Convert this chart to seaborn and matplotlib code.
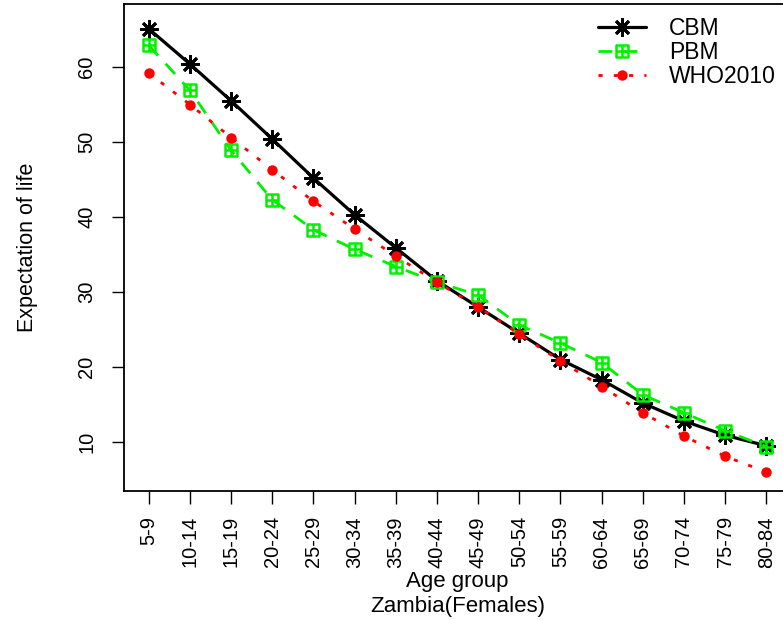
import matplotlib
matplotlib.use("Agg")
import matplotlib.pyplot as plt
from matplotlib.path import Path
import seaborn as sns
import numpy as np

age_groups = ["5-9", "10-14", "15-19", "20-24", "25-29", "30-34", "35-39", "40-44",
              "45-49", "50-54", "55-59", "60-64", "65-69", "70-74", "75-79", "80-84"]
cbm = [65.1, 60.4, 55.5, 50.4, 45.2, 40.3, 35.9, 31.5, 28.0, 24.5, 21.0, 18.3, 15.2, 12.8, 10.9, 9.5]
pbm = [62.9, 56.9, 48.9, 42.3, 38.3, 35.7, 33.4, 31.3, 29.6, 25.6, 23.2, 20.6, 16.3, 13.9, 11.5, 9.4]
who2010 = [59.2, 55.0, 50.6, 46.3, 42.1, 38.4, 34.8, 31.3, 28.0, 24.4, 20.8, 17.4, 13.9, 10.8, 8.1, 6.0]
y_ticks = [10, 20, 30, 40, 50, 60]

sns.set_style("white")
plt.rcParams['font.family'] = ['Liberation Sans', 'DejaVu Sans']
plt.rcParams['text.color'] = 'black'
plt.rcParams['axes.labelcolor'] = 'black'
plt.rcParams['xtick.color'] = 'black'
plt.rcParams['ytick.color'] = 'black'

# square with a cross inside (like R pch 12)
boxplus = Path(
    [(-1, -1), (1, -1), (1, 1), (-1, 1), (-1, -1), (0, -1), (0, 1), (-1, 0), (1, 0)],
    [Path.MOVETO, Path.LINETO, Path.LINETO, Path.LINETO, Path.CLOSEPOLY,
     Path.MOVETO, Path.LINETO, Path.MOVETO, Path.LINETO])

pos = np.arange(1, len(age_groups) + 1)
green = '#00F000'

fig = plt.figure(figsize=(7.83, 6.2), dpi=100)
ax = fig.add_axes([124/783, 1 - 491/620, (791 - 124)/783, (491 - 4)/620])

sns.lineplot(x=pos, y=cbm, ax=ax, color='black', lw=2.3, marker=(8, 2, 0),
             markersize=13, mew=2, mec='black', label='CBM')
sns.lineplot(x=pos, y=pbm, ax=ax, color=green, lw=2, linestyle=(0, (5, 4)),
             marker=boxplus, markersize=8.5, mew=1.8, mec=green, mfc='none', label='PBM')
sns.lineplot(x=pos, y=who2010, ax=ax, color='red', lw=2, linestyle=(0, (1.5, 4)),
             marker='o', markersize=7.5, mew=0, mfc='red', label='WHO2010')

ax.set_xlim(0.4, 16.6)
ax.set_ylim(3.47, 68.4)
ax.set_xticks(pos)
ax.set_xticklabels(age_groups, rotation=90, fontsize=14.5)
ax.set_yticks(y_ticks)
ax.set_yticklabels([str(v) for v in y_ticks], rotation=90, va='center', fontsize=14.5)
ax.tick_params(axis='x', direction='out', length=9, width=1, pad=9, bottom=True)
ax.tick_params(axis='y', direction='out', length=9, width=1, pad=11, left=True)
for s in ax.spines.values():
    s.set_color('black')
    s.set_linewidth(1.3)

ax.set_ylabel("Expectation of life", fontsize=15.5, labelpad=28)
ax.set_xlabel("")
fig.text(0.584, 1 - 581/620, "Age group", ha='center', va='center', fontsize=16)
fig.text(0.584, 1 - 596/620, "Zambia(Females)", ha='center', va='top', fontsize=16)

ax.legend(loc='upper left', bbox_to_anchor=(598/783, 1 - 17/620), bbox_transform=fig.transFigure,
          frameon=False, fontsize=16.5, handlelength=2.1, handletextpad=1.0,
          labelspacing=0.05, borderpad=0, borderaxespad=0)

fig.savefig("out.png", dpi=100)
